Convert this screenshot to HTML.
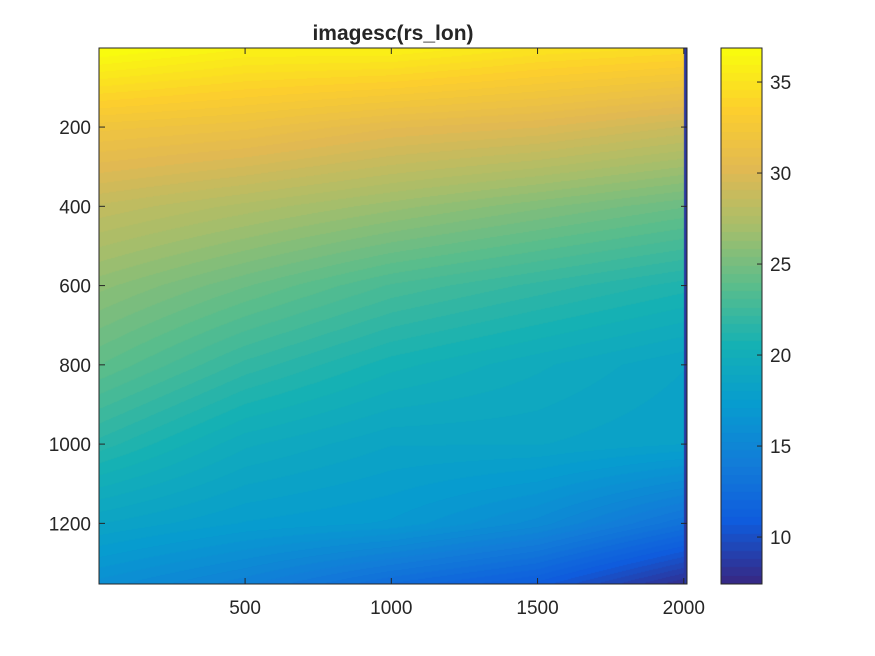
<!DOCTYPE html>
<html><head><meta charset="utf-8"><style>
body{margin:0;background:#fff;width:875px;height:656px;overflow:hidden;position:relative;font-family:"Liberation Sans",sans-serif}
canvas{position:absolute}
svg{position:absolute;left:0;top:0}
text{font-family:"Liberation Sans",sans-serif;fill:#262626}
</style></head><body>
<canvas id="img" width="588" height="536" style="left:99px;top:48px"></canvas>
<canvas id="cb" width="41" height="536" style="left:721px;top:48px"></canvas>
<svg id="ax" width="875" height="656"></svg>
<script>
// data grid
const xCols=[1,500,1000,1500,2000];
const yRows=[1,200,400,600,800,1000,1200,1350];
const gridVals=[
 [37,36,36,35,34.5],
 [32,31.5,30.5,30,29],
 [28.5,27.5,26.5,25.5,24.5],
 [26,24.5,23,22,21],
 [24,22,20.5,19.5,18.5],
 [21.5,19.5,18.5,18.5,18],
 [18.5,17.5,17,15.5,13],
 [16,14.5,12.5,11,8]
];
const edgeColumnValue=[8.5];
const xTicks=[500,1000,1500,2000];
const yTicks=[200,400,600,800,1000,1200];
const cbTicks=[10,15,20,25,30,35];
const xRange=[0.5,2011],yRange=[0.5,1353],cRange=[7.42,36.87];
const PL={x:99,y:48,w:588,h:536};
const CB={x:721,y:48,w:41,h:536};
const sx=v=>PL.x+(v-xRange[0])/(xRange[1]-xRange[0])*PL.w;
const sy=v=>PL.y+(v-yRange[0])/(yRange[1]-yRange[0])*PL.h;
const cy=v=>CB.y+CB.h-(v-cRange[0])/(cRange[1]-cRange[0])*CB.h;
const par=[[53,42,135],[15,92,221],[18,125,216],[7,156,207],[21,177,180],[89,189,140],[165,190,107],[225,185,82],[252,206,46],[249,251,14]];
function col(v){let t=(v-cRange[0])/(cRange[1]-cRange[0]);t=Math.max(0,Math.min(1,t));t=Math.min(63,Math.floor(t*64))/63;
 const p=t*(par.length-1),i=Math.min(par.length-2,Math.floor(p)),f=p-i;return par[i].map((c,k)=>Math.round(c+(par[i+1][k]-c)*f));}
function seg(arr,v){for(let i=0;i<arr.length-1;i++)if(v<=arr[i+1]||i==arr.length-2)return [i,Math.max(0,Math.min(1,(v-arr[i])/(arr[i+1]-arr[i])))];}
function field(x,y){if(x>xCols[xCols.length-1])return edgeColumnValue[0];
 const [i,fx]=seg(xCols,x),[j,fy]=seg(yRows,y);
 const a=gridVals[j][i],b=gridVals[j][i+1],c=gridVals[j+1][i],d=gridVals[j+1][i+1];
 return (a*(1-fx)+b*fx)*(1-fy)+(c*(1-fx)+d*fx)*fy;}
const ctx=document.getElementById('img').getContext('2d');
const im=ctx.createImageData(PL.w,PL.h);
for(let py=0;py<PL.h;py++)for(let px=0;px<PL.w;px++){
 const x=xRange[0]+(px+0.5)/PL.w*(xRange[1]-xRange[0]),y=yRange[0]+(py+0.5)/PL.h*(yRange[1]-yRange[0]);
 const c=col(field(x,y)),k=(py*PL.w+px)*4;im.data[k]=c[0];im.data[k+1]=c[1];im.data[k+2]=c[2];im.data[k+3]=255;}
ctx.putImageData(im,0,0);
const c2=document.getElementById('cb').getContext('2d');
for(let py=0;py<CB.h;py++){const v=cRange[1]-(py+0.5)/CB.h*(cRange[1]-cRange[0]);const c=col(v);c2.fillStyle=`rgb(${c})`;c2.fillRect(0,py,CB.w,1);}
const svg=document.getElementById('ax');const NS='http://www.w3.org/2000/svg';
function mk(t,a,txt){const e=document.createElementNS(NS,t);for(const k in a)e.setAttribute(k,a[k]);if(txt!==undefined)e.textContent=txt;svg.appendChild(e);return e;}
let e;
e=mk('rect',{x:PL.x,y:PL.y,width:PL.w,height:PL.h,fill:'none',stroke:'#262626','stroke-width':1});


e=mk('rect',{x:CB.x,y:CB.y,width:CB.w,height:CB.h,fill:'none',stroke:'#262626','stroke-width':1});


xTicks.forEach(v=>{const x=sx(v);
 mk('line',{x1:x,x2:x,y1:PL.y+PL.h,y2:PL.y+PL.h-6,stroke:'#262626'});
 mk('line',{x1:x,x2:x,y1:PL.y,y2:PL.y+6,stroke:'#262626'});
 e=mk('text',{x:x,y:614,'text-anchor':'middle','font-size':19},v);
 
 });
yTicks.forEach(v=>{const y=sy(v);
 mk('line',{x1:PL.x,x2:PL.x+6,y1:y,y2:y,stroke:'#262626'});
 mk('line',{x1:PL.x+PL.w,x2:PL.x+PL.w-6,y1:y,y2:y,stroke:'#262626'});
 e=mk('text',{x:91,y:y+7,'text-anchor':'end','font-size':19},v);
 
 });
cbTicks.forEach(v=>{const y=cy(v);
 mk('line',{x1:CB.x+CB.w,x2:CB.x+CB.w-5,y1:y,y2:y,stroke:'#262626'});
 e=mk('text',{x:770,y:y+7,'font-size':19},v);
 
 });
e=mk('text',{x:393,y:40,'text-anchor':'middle','font-size':21,'font-weight':'bold',fill:'#000'},'imagesc(rs_lon)');


</script>
</body></html>
